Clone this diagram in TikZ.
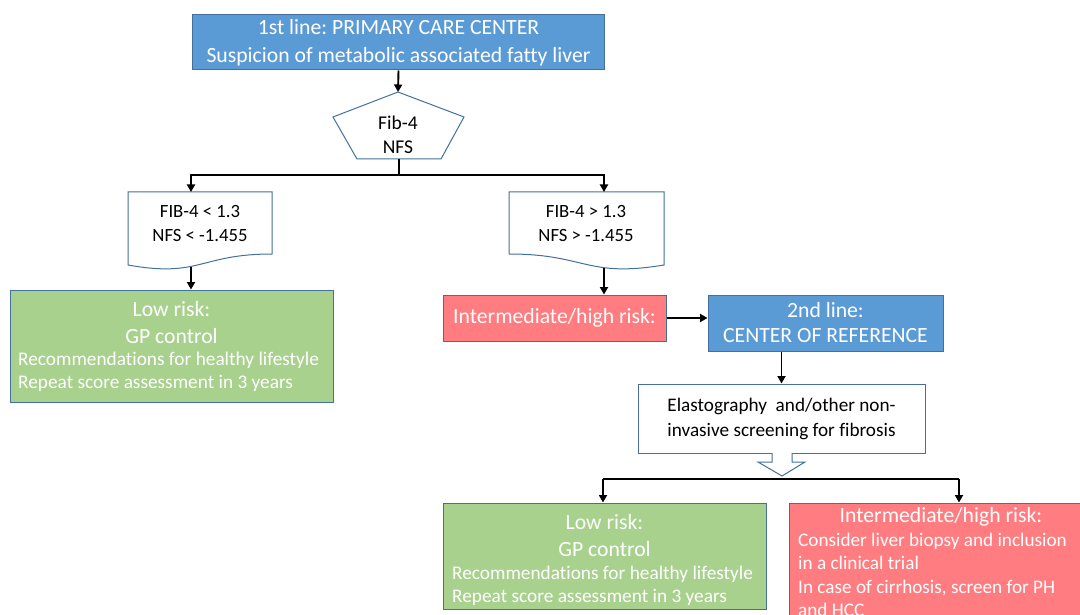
\documentclass[tikz,border=0pt]{standalone}
\usepackage{fontspec}
\setmainfont{Carlito}[Ligatures=NoCommon]
\usetikzlibrary{arrows.meta}
\definecolor{obl}{HTML}{5B9BD5}
\definecolor{obd}{HTML}{41719C}
\definecolor{ogr}{HTML}{A9D18E}
\definecolor{ord}{HTML}{FF7C80}
\tikzset{
  box/.style={rectangle, draw=obd, line width=1pt, inner sep=0pt, align=center},
  bluebox/.style={box, fill=obl, text=white},
  greenbox/.style={box, fill=ogr},
  redbox/.style={box, fill=ord, text=white},
  whitebox/.style={box, fill=white, text=black},
  outl/.style={draw=obd, line width=1pt, fill=white},
  conn/.style={line width=1.9pt, -{Triangle[length=7.5pt,width=8pt]}},
  plain/.style={line width=1.9pt},
  titlef/.style={font=\fontsize{21.7}{27}\selectfont},
  bodyf/.style={font=\fontsize{19.3}{22.5}\selectfont},
  docf/.style={font=\fontsize{18.7}{24}\selectfont},
  wtext/.style={text=white, inner sep=0pt},
}
\begin{document}
\frenchspacing
\begin{tikzpicture}[x=1pt,y=-1pt]
\useasboundingbox (0,0) rectangle (1080,615);
\clip (0,0) rectangle (1080,615);
\fill[white] (0,0) rectangle (1080,615);

% top box
\node[bluebox, minimum width=412pt, minimum height=55pt, font=\fontsize{21.7}{28}\selectfont] (top) at (398.5,42.5)
  {1st line: PRIMARY CARE CENTER\\Suspicion of metabolic associated fatty liver};

% pentagon
\coordinate (pT) at (398,92);
\coordinate (pB) at (399,159);
\draw[outl] (pT) -- (464,117) -- (441,159) -- (357,159) -- (333,117) -- cycle;
\node[align=center, inner sep=0pt, font=\fontsize{19.5}{24}\selectfont] (pent) at (398,135) {Fib-4\\NFS};
\draw[conn] (top.south) -- (pT);

% documents
\draw[outl] (128,192) -- (272,192) -- (272,254) .. controls (200,254) and (200,278) .. (128,265) -- cycle;
\draw[outl] (509,192) -- (664,192) -- (664,265) .. controls (586,278) and (586,254) .. (509,254) -- cycle;
\node[docf, align=center, inner sep=0pt] (d1) at (200,224) {FIB-4 < 1.3\\NFS < -1.455};
\node[docf, align=center, inner sep=0pt] (d2) at (586,224) {FIB-4 > 1.3\\NFS > -1.455};
\coordinate (d1t) at (191,192);
\coordinate (d2t) at (604,192);
\coordinate (d1b) at (191,267);
\coordinate (d2b) at (604,268);
\coordinate (fork) at (399,175);
\draw[plain] (pB) -- (fork);
\draw[conn] (fork) -| (d1t);
\draw[conn] (fork) -| (d2t);

% green box 1
\node[greenbox, minimum width=323pt, minimum height=112pt] (g1) at (171.5,346) {};
\node[titlef, wtext, align=center] (g1t) at (171.5,323) {Low risk:\\GP control};
\node[bodyf, wtext, align=left, anchor=west] (g1b) at (18,372) {Recommendations for healthy lifestyle\\Repeat score assessment in 3 years};
\draw[conn] (d1b) -- (d1b |- g1.north);

% red box 1
\node[redbox, minimum width=223pt, minimum height=46pt, titlef] (r1) at (554.5,318) {Intermediate/high risk:};
\draw[conn] (d2b) -- (d2b |- r1.north);

% blue box 2
\node[bluebox, minimum width=235pt, minimum height=56pt, font=\fontsize{21.7}{25}\selectfont] (b2) at (825.5,323) {2nd line:\\CENTER OF REFERENCE};
\draw[conn] (r1.east) -- (b2.west |- r1.east);

% elastography
\node[whitebox, minimum width=287pt, minimum height=69pt, font=\fontsize{19.2}{25}\selectfont] (el) at (781.5,418.5) {Elastography\ \ and/other non-\\invasive screening for fibrosis};
\draw[conn] (b2.south -| el.north) -- (el.north);

% block arrow
\coordinate (ba) at (782,476);
\draw[outl] (772,453) -- (772,462) -- (758,462) -- (ba) -- (805,462) -- (792,462) -- (792,453);

% second fork
\coordinate (fork2) at (782,479);
\coordinate (g2t) at (603,479);
\coordinate (r2t) at (959,479);
\node[greenbox, minimum width=323pt, minimum height=106pt] (g2) at (604.5,556) {};
\node[redbox, minimum width=306pt, minimum height=147pt] (r2) at (942,576.5) {};
\draw[plain] (g2t) -- (r2t);
\draw[conn] (g2t) -- (g2t |- g2.north);
\draw[conn] (r2t) -- (r2t |- r2.north);

\node[titlef, wtext, align=center] (g2tt) at (604.5,535.5) {Low risk:\\GP control};
\node[bodyf, wtext, align=left, anchor=west] (g2b) at (452,586) {Recommendations for healthy lifestyle\\Repeat score assessment in 3 years};

\node[titlef, wtext] (r2tt) at (941,517) {Intermediate/high risk:};
\node[wtext, align=left, anchor=west, font=\fontsize{19.2}{23.5}\selectfont] (r2b) at (798,575) {Consider liver biopsy and inclusion\\in a clinical trial\\In case of cirrhosis, screen for PH\\and HCC};
\end{tikzpicture}
\end{document}
